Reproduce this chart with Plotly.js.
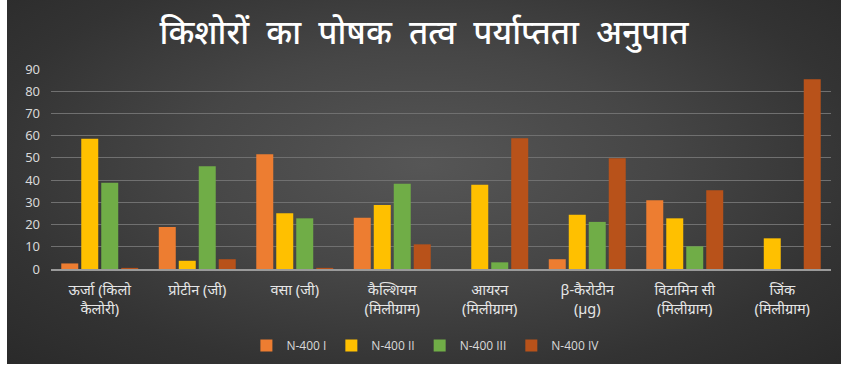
<!DOCTYPE html>
<html>
<head>
<meta charset="utf-8">
<script src="https://cdn.plot.ly/plotly-3.0.1.min.js"></script>
<style>
html, body { margin: 0; padding: 0; background: #ffffff; width: 841px; height: 367px; overflow: hidden; }
#frame { position: absolute; left: 7px; top: 0; width: 834px; height: 364px;
  background: radial-gradient(ellipse at 50% 45%, #565656 0%, #464646 40%, #333333 75%, #2a2a2a 100%); }
#chart { width: 834px; height: 364px; }
</style>
</head>
<body>
<div id="frame"><div id="chart"></div></div>
<script>
const categories = [
  "ऊर्जा (किलो<br>कैलोरी)",
  "प्रोटीन (जी)",
  "वसा (जी)",
  "कैल्शियम<br>(मिलीग्राम)",
  "आयरन<br>(मिलीग्राम)",
  "β-कैरोटीन<br>(µg)",
  "विटामिन सी<br>(मिलीग्राम)",
  "जिंक<br>(मिलीग्राम)"
];
const seriesNames = ["N-400 I", "N-400 II", "N-400 III", "N-400 IV"];
const seriesI   = [2.5, 18.9, 51.6, 23.1, 0,    4.4, 30.9, 0];
const seriesII  = [58.6, 3.7, 25.1, 28.8, 37.9, 24.4, 22.8, 13.8];
const seriesIII = [38.8, 46.2, 22.8, 38.4, 3.0, 21.2, 10.2, 0];
const seriesIV  = [0.5, 4.4, 0.5, 11.1, 58.8, 49.8, 35.4, 85.4];
const colors = ["#ED7D31", "#FFC000", "#70AD47", "#B8521A"];
const yTicks = [0, 10, 20, 30, 40, 50, 60, 70, 80, 90];
const titleText = "किशोरों  का  पोषक  तत्व  पर्याप्तता  अनुपात";

const font = "Noto Sans, Lato, DejaVu Sans, sans-serif";
const allSeries = [seriesI, seriesII, seriesIII, seriesIV];
const traces = allSeries.map((vals, i) => ({
  type: "bar",
  name: seriesNames[i],
  x: categories,
  y: vals,
  marker: { color: colors[i], line: { width: 0 } },
  hoverinfo: "x+y+name"
}));

const layout = {
  width: 834, height: 364,
  paper_bgcolor: "rgba(0,0,0,0)",
  plot_bgcolor: "rgba(0,0,0,0)",
  margin: { l: 44, r: 10, t: 69, b: 95, autoexpand: false },
  title: {
    text: titleText.replace(/ /g, "&nbsp;"),
    font: { family: font, size: 33, color: "#ffffff", weight: 500 },
    x: 0.5, xanchor: "center", y: 0.912, yanchor: "middle"
  },
  barmode: "group",
  bargap: 0.18,
  bargroupgap: 0.15,
  xaxis: {
    tickfont: { family: font, size: 14.5, color: "#e6e6e6" },
    showline: true, linecolor: "#9a9a9a", linewidth: 1.5,
    showgrid: false, ticks: "", ticklen: 0, ticklabelstandoff: 7
  },
  yaxis: {
    range: [0, 90],
    tickvals: yTicks,
    ticktext: yTicks.map(String),
    tickfont: { family: font, size: 13, color: "#d9d9d9" },
    gridcolor: "#707070", gridwidth: 1,
    zeroline: false, showline: false, ticks: "", ticklabelstandoff: 10
  },
  showlegend: true,
  legend: {
    orientation: "h", x: 0.48, xanchor: "center", y: -0.31, yanchor: "top",
    font: { family: "Open Sans, Lato, sans-serif", size: 12, color: "#d9d9d9" },
    bgcolor: "rgba(0,0,0,0)", itemwidth: 30, traceorder: "normal"
  }
};

Plotly.newPlot("chart", traces, layout, { displayModeBar: false, staticPlot: true });
</script>
</body>
</html>
